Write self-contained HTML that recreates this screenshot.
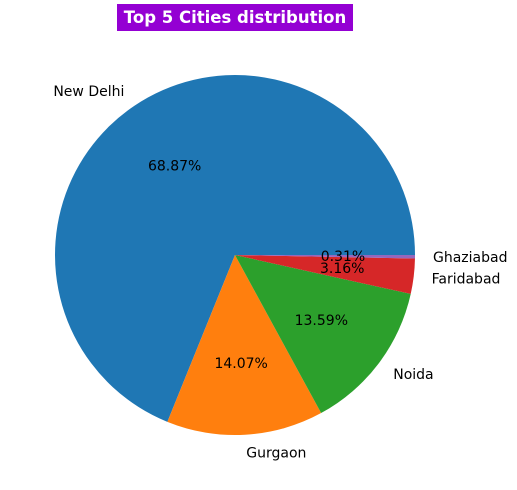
<!DOCTYPE html>
<html><head><meta charset="utf-8"><style>
body{margin:0;background:#fff;}
svg{display:block;font-family:"DejaVu Sans","Liberation Sans",sans-serif;}
</style></head><body>
<svg id="chart" width="517" height="490" viewBox="0 0 517 490">
<rect x="117" y="4" width="236" height="27" fill="#9400d3"/>
<text x="235" y="23" text-anchor="middle" font-size="16.5" font-weight="bold" fill="#fff">Top 5 Cities distribution</text>
<g id="slices"></g>
</svg>
<script>
const categories=["New Delhi","Gurgaon","Noida","Faridabad","Ghaziabad"];
const values=[68.87,14.07,13.59,3.16,0.31];
const colors=["#1f77b4","#ff7f0e","#2ca02c","#d62728","#9467bd"];
const cx=235,cy=255,R=180;
const g=document.getElementById('slices');
const NS="http://www.w3.org/2000/svg";
const total=values.reduce((a,b)=>a+b,0);
let a0=0;
function pt(a,r){return [cx+r*Math.cos(a),cy-r*Math.sin(a)];}
values.forEach((v,i)=>{
  const a1=a0+v/total*2*Math.PI;
  const p0=pt(a0,R),p1=pt(a1,R);
  const large=(a1-a0)>Math.PI?1:0;
  const path=document.createElementNS(NS,'path');
  path.setAttribute('d',`M${cx},${cy}L${p0[0]},${p0[1]}A${R},${R} 0 ${large} 0 ${p1[0]},${p1[1]}Z`);
  path.setAttribute('fill',colors[i]);
  
  
  g.appendChild(path);
  const am=(a0+a1)/2;
  const lp=pt(am,R*1.1);
  const t=document.createElementNS(NS,'text');
  t.setAttribute('x',lp[0]);t.setAttribute('y',lp[1]+5);
  t.setAttribute('font-size','14');
  t.setAttribute('text-anchor',Math.cos(am)>0?'start':'end');
  t.textContent=categories[i];
  
  
  g.appendChild(t);
  const pp=pt(am,R*0.6);
  const p=document.createElementNS(NS,'text');
  p.setAttribute('x',pp[0]);p.setAttribute('y',pp[1]+5);
  p.setAttribute('font-size','14');
  p.setAttribute('text-anchor','middle');
  p.textContent=v.toFixed(2)+'%';
  
  
  g.appendChild(p);
  a0=a1;
});
</script>
</body></html>
